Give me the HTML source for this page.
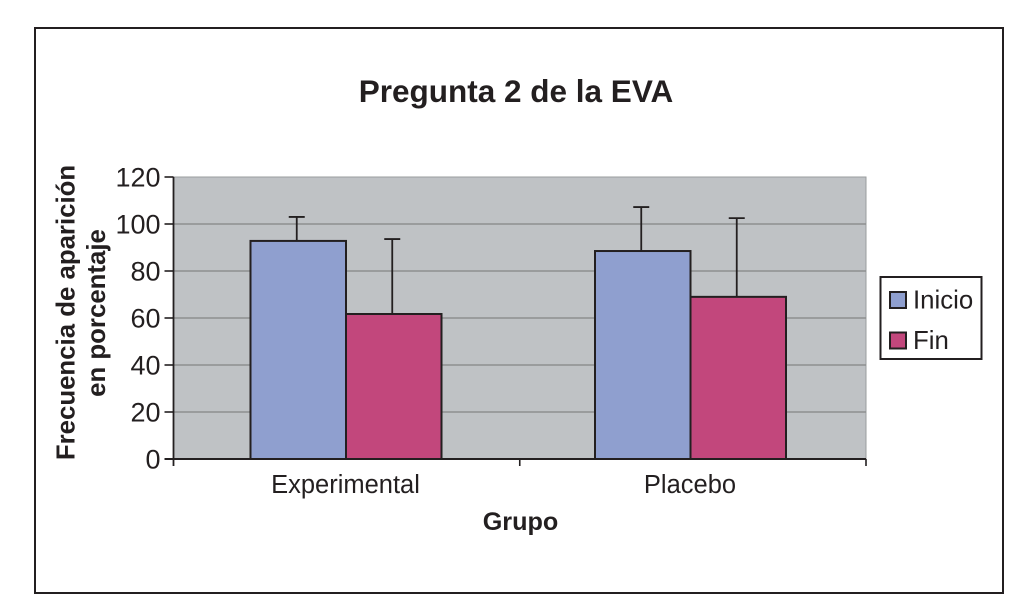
<!DOCTYPE html>
<html lang="es">
<head>
<meta charset="utf-8">
<title>Pregunta 2 de la EVA</title>
<style>
html,body{margin:0;padding:0;background:#fff;width:1025px;height:616px;overflow:hidden}
svg{display:block}
text{font-family:"Liberation Sans",sans-serif;fill:#231f20}
</style>
</head>
<body>
<svg id="chart" xmlns="http://www.w3.org/2000/svg" width="1025" height="616" viewBox="0 0 1025 616">
  <rect x="35" y="28" width="968" height="565" fill="#fff" stroke="#231f20" stroke-width="2"/>
  <text x="516" y="102" font-size="31.5" font-weight="700" text-anchor="middle">Pregunta 2 de la EVA</text>
  <rect x="173.5" y="177" width="692.5" height="282" fill="#bfc2c5" stroke="#9a9c9e" stroke-width="1"/>
  <g id="gridlines"></g>
  <g id="bars"></g>
  <g id="axes"></g>
  <text transform="translate(74.5,312.5) rotate(-90)" font-size="25.8" font-weight="700" text-anchor="middle">Frecuencia de aparición</text>
  <text transform="translate(105,313) rotate(-90)" font-size="25.8" font-weight="700" text-anchor="middle">en porcentaje</text>
  <text x="520.5" y="530" font-size="25.2" font-weight="700" text-anchor="middle">Grupo</text>
  <g>
    <rect x="880.5" y="277" width="101" height="82" fill="#fff" stroke="#231f20" stroke-width="2"/>
    <rect x="890" y="292" width="16" height="16" fill="#8f9fcf" stroke="#231f20" stroke-width="2"/>
    <text x="913" y="308.5" font-size="25.8">Inicio</text>
    <rect x="890" y="332.5" width="16" height="16" fill="#c2477c" stroke="#231f20" stroke-width="2"/>
    <text x="913" y="349" font-size="25.8">Fin</text>
  </g>
</svg>
<script>
const categories = ["Experimental", "Placebo"];
const inicioValues = [92.8, 88.5];
const finValues = [61.7, 69];
const inicioErrorTops = [103, 107.2];
const finErrorTops = [93.6, 102.5];
const yTickLabels = [0, 20, 40, 60, 80, 100, 120];

const NS = "http://www.w3.org/2000/svg";
const plotLeft = 173.5, plotRight = 866, plotTop = 177, plotBottom = 459, yMax = 120;
const ink = "#231f20";
const yScale = v => plotBottom - (v / yMax) * (plotBottom - plotTop);
const bandWidth = (plotRight - plotLeft) / categories.length;
const barWidth = 95.5;
const groupCenter = i => 346 + i * 344.5;
const xScale = (catIndex, seriesIndex) => groupCenter(catIndex) + (seriesIndex - 1) * barWidth;

function make(tag, parent, attrs, text) {
  const el = document.createElementNS(NS, tag);
  for (const k in attrs) el.setAttribute(k, attrs[k]);
  if (text !== undefined) el.textContent = text;
  parent.appendChild(el);
  return el;
}

const gridG = document.getElementById("gridlines");
const barsG = document.getElementById("bars");
const axesG = document.getElementById("axes");

yTickLabels.forEach(t => {
  const y = yScale(t);
  if (t > 0 && t < yMax) {
    const g = make("line", gridG, {x1: plotLeft, x2: plotRight, y1: y, y2: y, stroke: "#8d8f90", "stroke-width": 1.6});
    
    
  }
  const tick = make("line", axesG, {x1: plotLeft - 9, x2: plotLeft, y1: y, y2: y, stroke: ink, "stroke-width": 1.6});
  
  
  const label = make("text", axesG, {x: plotLeft - 13, y: y + 9.5, "font-size": 27, "text-anchor": "end"}, String(t));
  
  
});

function drawSeries(values, errorTops, seriesIndex, fill, seriesName) {
  values.forEach((v, i) => {
    const x = xScale(i, seriesIndex);
    const cx = x + barWidth / 2 - 1.5;
    const errY = yScale(errorTops[i]);
    const stem = make("line", barsG, {x1: cx, x2: cx, y1: errY, y2: yScale(v), stroke: ink, "stroke-width": 1.8});
    
    
    const cap = make("line", barsG, {x1: cx - 8, x2: cx + 8, y1: errY, y2: errY, stroke: ink, "stroke-width": 1.8});
    
    
    const bar = make("rect", barsG, {x: x, y: yScale(v), width: barWidth, height: plotBottom - yScale(v), fill: fill, stroke: ink, "stroke-width": 2});
    
    
  });
}
drawSeries(inicioValues, inicioErrorTops, 0, "#8f9fcf", "inicio");
drawSeries(finValues, finErrorTops, 1, "#c2477c", "fin");

const yAxis = make("line", axesG, {x1: plotLeft, x2: plotLeft, y1: plotTop, y2: plotBottom + 7, stroke: ink, "stroke-width": 1.8});


const xAxis = make("line", axesG, {x1: plotLeft - 9, x2: plotRight, y1: plotBottom, y2: plotBottom, stroke: ink, "stroke-width": 2});



for (let i = 1; i <= categories.length; i++) {
  const x = plotLeft + bandWidth * i;
  const tick = make("line", axesG, {x1: x, x2: x, y1: plotBottom, y2: plotBottom + 7, stroke: ink, "stroke-width": 1.6});
  
  
}
categories.forEach((c, i) => {
  const label = make("text", axesG, {x: groupCenter(i) - 0.5, y: 493, "font-size": 25.5, "text-anchor": "middle"}, c);
  
  
});
</script>
</body>
</html>
